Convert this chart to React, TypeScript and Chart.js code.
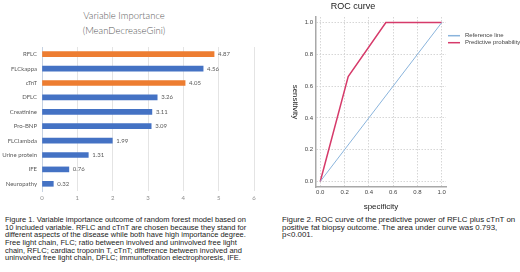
import React, { useEffect, useRef } from "react";
import { Chart, registerables } from "chart.js";

Chart.register(...registerables);

// ---- Data: variable importance ----
const variables = ["RFLC", "FLCkappa", "cTnT", "DFLC", "Creatinine", "Pro-BNP", "FLClambda", "Urine protein", "IFE", "Neuropathy"];
const importance = [4.87, 4.56, 4.05, 3.26, 3.11, 3.09, 1.99, 1.31, 0.76, 0.32];
const chosenVariables = ["RFLC", "cTnT"];
const importanceTicks = [0, 1, 2, 3, 4, 5, 6];

// ---- Data: ROC ----
const referenceSpecificity = [0, 1];
const referenceSensitivity = [0, 1];
const predictiveSpecificity = [0, 0.23, 0.54, 1];
const predictiveSensitivity = [0, 0.66, 1, 1];
const rocTicks = [0, 0.2, 0.4, 0.6, 0.8, 1.0];

const caption1 = [
  "Figure 1. Variable importance outcome of random forest model based on",
  "10 included variable. RFLC and cTnT are chosen because they stand for",
  "different aspects of the disease while both have high importance degree.",
  "Free light chain, FLC; ratio between involved and uninvolved free light",
  "chain, RFLC; cardiac troponin T, cTnT; difference between involved and",
  "uninvolved free light chain, DFLC; immunofixation electrophoresis, IFE.",
];
const caption2 = [
  "Figure 2. ROC curve of the predictive power of RFLC plus cTnT on",
  "positive fat biopsy outcome. The area under curve was 0.793,",
  "p<0.001.",
];

const ORANGE = "#ED7D31";
const BLUE = "#4472C4";
const LEFT_FONT = "Lato, 'Noto Sans', sans-serif";
const ARIAL = "'Liberation Sans', Arial, sans-serif";

const barLabelPlugin = {
  id: "barLabels",
  afterDatasetsDraw(chart: any) {
    const ctx = chart.ctx;
    const meta = chart.getDatasetMeta(0);
    const ds = chart.data.datasets[0];
    ctx.save();
    ctx.font = `6px ${LEFT_FONT}`;
    ctx.fillStyle = "#595959";
    ctx.textAlign = "left";
    ctx.textBaseline = "middle";
    meta.data.forEach((el: any, i: number) => {
      ctx.fillText(Number(ds.data[i]).toFixed(2), el.x + 4, el.y);
    });
    ctx.restore();
  },
};

const rocExtrasPlugin = {
  id: "rocExtras",
  afterDraw(chart: any) {
    const ctx = chart.ctx;
    const area = chart.chartArea;
    ctx.save();
    // legend
    ctx.font = `6px ${ARIAL}`;
    ctx.textBaseline = "middle";
    ctx.textAlign = "left";
    chart.data.datasets.forEach((ds: any, i: number) => {
      const y = area.top + 18.7 + i * 7;
      ctx.strokeStyle = ds.borderColor;
      ctx.lineWidth = 1.5;
      ctx.beginPath();
      ctx.moveTo(area.right + 2, y);
      ctx.lineTo(area.right + 14, y);
      ctx.stroke();
      ctx.fillStyle = "#444";
      ctx.fillText(ds.label, area.right + 19, y);
    });
    // y-axis title, rotated clockwise
    ctx.font = `8px ${ARIAL}`;
    ctx.fillStyle = "#222";
    ctx.textAlign = "center";
    ctx.translate(35.5, (area.top + area.bottom) / 2);
    ctx.rotate(Math.PI / 2);
    ctx.fillText("sensitivity", 0, 0);
    ctx.restore();
  },
};

export default function App() {
  const leftRef = useRef<HTMLCanvasElement>(null);
  const rightRef = useRef<HTMLCanvasElement>(null);

  useEffect(() => {
    const left = new Chart(leftRef.current!, {
      type: "bar",
      data: {
        labels: variables,
        datasets: [
          {
            data: importance,
            backgroundColor: variables.map((v) => (chosenVariables.includes(v) ? ORANGE : BLUE)),
            barThickness: 5,
          },
        ],
      },
      options: {
        responsive: false,
        animation: false,
        indexAxis: "y",
        layout: { padding: { top: 47, right: 6, left: 0, bottom: 0 } },
        plugins: { legend: { display: false }, tooltip: { enabled: false }, title: { display: false } },
        scales: {
          x: {
            min: 0,
            max: 6,
            afterBuildTicks: (s: any) => {
              s.ticks = importanceTicks.map((v) => ({ value: v }));
            },
            afterFit: (s: any) => {
              s.height = 14;
            },
            ticks: { font: { size: 6, family: LEFT_FONT }, color: "#8c8c8c", padding: 3 },
            grid: { color: "#e4e4e4", drawTicks: false },
            border: { display: false },
          },
          y: {
            afterFit: (s: any) => {
              s.width = 42;
            },
            ticks: { font: { size: 6, family: LEFT_FONT }, color: "#595959", padding: 5 },
            grid: { display: false, drawTicks: false },
            border: { display: true, color: "#c6d2e2", width: 1 },
          },
        },
      },
      plugins: [barLabelPlugin],
    } as any);

    const right = new Chart(rightRef.current!, {
      type: "scatter",
      data: {
        datasets: [
          {
            label: "Reference line",
            data: referenceSpecificity.map((x, i) => ({ x, y: referenceSensitivity[i] })),
            showLine: true,
            borderColor: "#8ab4dc",
            backgroundColor: "#8ab4dc",
            borderWidth: 1,
            pointRadius: 0,
          },
          {
            label: "Predictive probability",
            data: predictiveSpecificity.map((x, i) => ({ x, y: predictiveSensitivity[i] })),
            showLine: true,
            borderColor: "#d63a6a",
            backgroundColor: "#d63a6a",
            borderWidth: 1.5,
            pointRadius: 0,
          },
        ],
      },
      options: {
        responsive: false,
        animation: false,
        layout: { padding: { top: 0, right: 74, left: 0, bottom: 0 } },
        plugins: {
          legend: { display: false },
          tooltip: { enabled: false },
          title: {
            display: true,
            text: "ROC curve",
            color: "#222",
            font: { size: 9, family: ARIAL, weight: "normal" },
            padding: { top: 1.5, bottom: 4.7 },
          },
        },
        scales: {
          x: {
            type: "linear",
            min: -0.035,
            max: 1.035,
            afterBuildTicks: (s: any) => {
              s.ticks = rocTicks.map((v) => ({ value: v }));
            },
            afterFit: (s: any) => {
              s.height = 25;
            },
            ticks: {
              font: { size: 6, family: ARIAL },
              color: "#444",
              padding: 2,
              callback: (v: any) => Number(v).toFixed(1),
            },
            grid: { color: "#d6d6d6", drawTicks: false },
            border: { display: true, color: "#a8a8a8", width: 1.5, dash: [1.5, 1.5] },
            title: {
              display: true,
              text: "specificity",
              color: "#222",
              font: { size: 8, family: ARIAL },
              padding: { top: 0, bottom: 0.5 },
            },
          },
          y: {
            type: "linear",
            min: -0.035,
            max: 1.035,
            afterBuildTicks: (s: any) => {
              s.ticks = rocTicks.map((v) => ({ value: v }));
            },
            afterFit: (s: any) => {
              s.width = 56;
            },
            ticks: {
              font: { size: 6, family: ARIAL },
              color: "#444",
              padding: 3,
              callback: (v: any) => Number(v).toFixed(1),
            },
            grid: { color: "#d6d6d6", drawTicks: false },
            border: { display: true, color: "#a8a8a8", width: 1.5, dash: [1.5, 1.5] },
          },
        },
      },
      plugins: [rocExtrasPlugin],
    } as any);

    return () => {
      left.destroy();
      right.destroy();
    };
  }, []);

  const captionStyle: React.CSSProperties = {
    position: "absolute",
    fontFamily: ARIAL,
    lineHeight: "7.6px",
    color: "#222",
    whiteSpace: "nowrap",
  };

  return (
    <div style={{ position: "absolute", left: 0, top: 0, width: 520, height: 272, background: "#fff", overflow: "hidden" }}>
      <div
        style={{
          position: "absolute",
          left: 24,
          width: 200,
          top: 7.5,
          textAlign: "center",
          fontFamily: LEFT_FONT,
          fontWeight: 300,
          fontSize: 9.5,
          lineHeight: "15px",
          color: "#595959",
        }}
      >
        <div>Variable Importance</div>
        <div>(MeanDecreaseGini)</div>
      </div>
      <canvas ref={leftRef} width={260} height={205} style={{ position: "absolute", left: 0, top: 0, display: "block" }} />
      <canvas ref={rightRef} width={260} height={212} style={{ position: "absolute", left: 260, top: 0, display: "block" }} />
      <div style={{ ...captionStyle, fontSize: 7.5, left: 5, top: 216.2 }}>
        {caption1.map((l, i) => (
          <div key={i}>{l}</div>
        ))}
      </div>
      <div style={{ ...captionStyle, fontSize: 7.9, left: 282, top: 216.2 }}>
        {caption2.map((l, i) => (
          <div key={i}>{l}</div>
        ))}
      </div>
    </div>
  );
}
